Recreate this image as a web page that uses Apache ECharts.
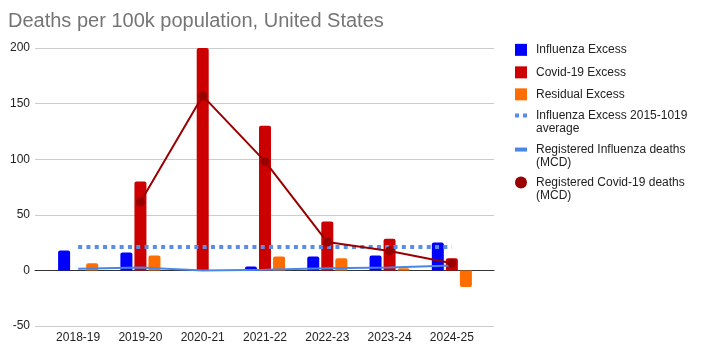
<!DOCTYPE html>
<html>
<head>
<meta charset="utf-8">
<script src="https://cdn.jsdelivr.net/npm/echarts@6/dist/echarts.min.js"></script>
<style>
html,body{margin:0;padding:0;background:#fff;}
#chart{width:706px;height:357px;}
</style>
</head>
<body>
<div id="chart"></div>
<script>
const categories = ['2018-19','2019-20','2020-21','2021-22','2022-23','2023-24','2024-25'];
const influenzaExcess = [18, 16, null, 3.5, 12.5, 13.5, 25];
const covidExcess = [null, 80, 215, 130, 44, 28.5, 11];
const residualExcess = [6.5, 13.5, null, 12.5, 11, 2, -15];
const influenzaAvg = [21, 21, 21, 21, 21, 21, 21];
const registeredFlu = [1.5, 2.5, 0, 0.5, 2, 2.5, 4.5];
const registeredCovid = [null, 61.5, 157, 98, 25.5, 17.5, 6.5];
const yTicks = { min: -50, max: 200, interval: 50 };

const FONT = "'Liberation Sans', Arial, sans-serif";
const NAMES = {
  flu: 'Influenza Excess',
  covid: 'Covid-19 Excess',
  resid: 'Residual Excess',
  avg: 'Influenza Excess 2015-1019 average',
  regFlu: 'Registered Influenza deaths (MCD)',
  regCovid: 'Registered Covid-19 deaths (MCD)'
};
const DISPLAY = {};
DISPLAY[NAMES.avg] = ' \nInfluenza Excess 2015-1019\naverage';
DISPLAY[NAMES.regFlu] = ' \nRegistered Influenza deaths\n(MCD)';
DISPLAY[NAMES.regCovid] = ' \nRegistered Covid-19 deaths\n(MCD)';

function barData(arr) {
  return arr.map(v => (v !== null && v < 0) ? { value: v, itemStyle: { borderRadius: [0, 0, 2, 2] } } : v);
}

function legend(name, icon, top, w, h, color) {
  return {
    left: 515, top: top, padding: 0, orient: 'vertical',
    itemWidth: w, itemHeight: h, selectedMode: false,
    data: [{ name: name, icon: icon, itemStyle: { color: color, borderWidth: 0 } }],
    formatter: n => DISPLAY[n] || n,
    textStyle: {
      fontFamily: FONT, fontSize: 12, color: '#222', lineHeight: 12.7,
      padding: [0, 0, 0, 4]
    }
  };
}

const chart = echarts.init(document.getElementById('chart'), null, { renderer: 'canvas' });
chart.setOption({
  animation: false,
  backgroundColor: '#fff',
  title: {
    text: 'Deaths per 100k population, United States',
    left: 8, top: 11, padding: 0,
    textStyle: { fontFamily: FONT, fontSize: 20, fontWeight: 'normal', color: '#757575' }
  },
  legend: [
    legend(NAMES.flu, 'rect', 43.5, 12, 12, '#0000ff'),
    legend(NAMES.covid, 'rect', 66, 12, 12, '#cc0000'),
    legend(NAMES.resid, 'rect', 88, 12, 12, '#ff6d01'),
    legend(NAMES.avg, 'path://M0,0h4v4h-4zM8,0h4v4h-4z', 96.5, 12, 4, '#5a8de8'),
    legend(NAMES.regFlu, 'rect', 130.5, 12, 4, '#4a86e8'),
    legend(NAMES.regCovid, 'circle', 163.5, 12, 12, '#990000')
  ],
  grid: [
    { left: 35, right: 212, top: 48, bottom: 31 },
    { left: 47, right: 223, top: 48, bottom: 31 }
  ],
  xAxis: [
    { gridIndex: 0, type: 'value', min: 0, max: 1,
      axisLine: { show: true, onZero: true, lineStyle: { color: '#333', width: 1 } },
      axisTick: { show: false }, axisLabel: { show: false }, splitLine: { show: false } },
    { gridIndex: 1, type: 'category', data: categories,
      axisLine: { show: false, onZero: false }, axisTick: { show: false },
      axisLabel: { fontFamily: FONT, fontSize: 12, color: '#222', margin: 6 } }
  ],
  yAxis: [
    { gridIndex: 0, type: 'value', min: yTicks.min, max: yTicks.max, interval: yTicks.interval,
      axisLine: { show: false }, axisTick: { show: false },
      axisLabel: { fontFamily: FONT, fontSize: 12, color: '#222', margin: 5 },
      splitLine: { lineStyle: { color: '#cccccc', width: 1 } } },
    { gridIndex: 1, type: 'value', min: yTicks.min, max: yTicks.max, interval: yTicks.interval,
      show: false, splitLine: { show: false } }
  ],
  series: [
    { name: NAMES.flu, type: 'bar', xAxisIndex: 1, yAxisIndex: 1, data: barData(influenzaExcess),
      barWidth: 12, barGap: '17%', itemStyle: { color: '#0000ff', borderRadius: [2, 2, 0, 0] } },
    { name: NAMES.covid, type: 'bar', xAxisIndex: 1, yAxisIndex: 1, data: barData(covidExcess),
      barWidth: 12, barGap: '17%', itemStyle: { color: '#cc0000', borderRadius: [2, 2, 0, 0] } },
    { name: NAMES.resid, type: 'bar', xAxisIndex: 1, yAxisIndex: 1, data: barData(residualExcess),
      barWidth: 12, barGap: '17%', itemStyle: { color: '#ff6d01', borderRadius: [2, 2, 0, 0] } },
    { name: NAMES.avg, type: 'line', xAxisIndex: 1, yAxisIndex: 1, data: influenzaAvg,
      showSymbol: false, symbol: 'none', itemStyle: { color: '#5a8de8' },
      lineStyle: { color: '#5a8de8', width: 4, type: [4, 4.3], cap: 'butt' }, z: 5 },
    { name: NAMES.regFlu, type: 'line', xAxisIndex: 1, yAxisIndex: 1, data: registeredFlu,
      showSymbol: false, symbol: 'none', itemStyle: { color: '#4a86e8' },
      lineStyle: { color: '#4a86e8', width: 2 }, z: 5 },
    { name: NAMES.regCovid, type: 'line', xAxisIndex: 1, yAxisIndex: 1, data: registeredCovid,
      symbol: 'circle', symbolSize: 9, itemStyle: { color: '#990000' },
      lineStyle: { color: '#990000', width: 2 }, z: 6 }
  ]
});
</script>
</body>
</html>
